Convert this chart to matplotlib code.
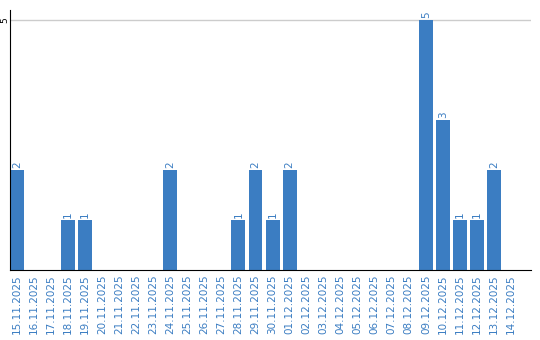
import matplotlib
matplotlib.use("Agg")
import matplotlib.pyplot as plt
import numpy as np

dates = ['15.11.2025', '16.11.2025', '17.11.2025', '18.11.2025', '19.11.2025',
         '20.11.2025', '21.11.2025', '22.11.2025', '23.11.2025', '24.11.2025',
         '25.11.2025', '26.11.2025', '27.11.2025', '28.11.2025', '29.11.2025',
         '30.11.2025', '01.12.2025', '02.12.2025', '03.12.2025', '04.12.2025',
         '05.12.2025', '06.12.2025', '07.12.2025', '08.12.2025', '09.12.2025',
         '10.12.2025', '11.12.2025', '12.12.2025', '13.12.2025', '14.12.2025']
counts = [2, 0, 0, 1, 1, 0, 0, 0, 0, 2,
          0, 0, 0, 1, 2, 1, 2, 0, 0, 0,
          0, 0, 0, 0, 5, 3, 1, 1, 2, 0]

bar_col = '#3b7dc2'
txt_col = '#3b7dc2'

fig = plt.figure(figsize=(5.4, 3.4), dpi=100)
ax = fig.add_axes([10/540, 1-270/340, 521/540, 260/340])

x = np.arange(len(dates))
w = 0.82
ax.bar(x, counts, width=w, color=bar_col, zorder=2)
for xi, c in zip(x, counts):
    if c > 0:
        ax.text(xi, c + 0.04, str(c), rotation=90, ha='center', va='bottom',
                color=txt_col, fontsize=7.5)

ax.set_xlim(-w/2, 30.17)
ax.set_ylim(0, 5.2)
ax.set_xticks(x)
ax.set_xticklabels(dates, rotation=90, fontsize=7.5, color=txt_col)
ax.set_yticks([5])
ax.set_yticklabels(['5'], rotation=90, fontsize=6.5, va='center')
ax.tick_params(axis='x', length=0, pad=3)
ax.tick_params(axis='y', length=0, pad=0.5)
ax.yaxis.grid(True, color='#cccccc', lw=1, zorder=0)
for s in ['top', 'right']:
    ax.spines[s].set_visible(False)
ax.spines['left'].set_color('black')
ax.spines['bottom'].set_color('black')

fig.savefig('out.png', dpi=100)
